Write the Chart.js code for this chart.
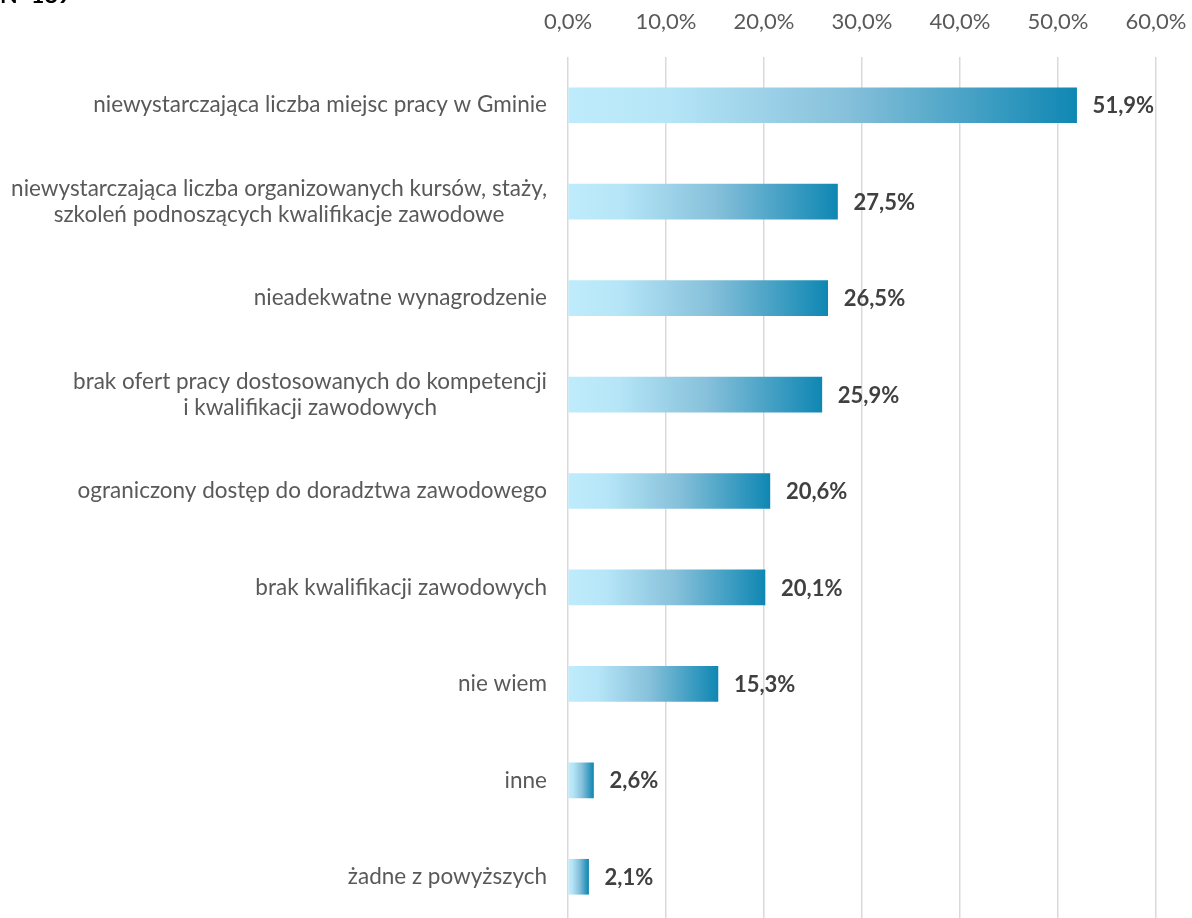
<!DOCTYPE html>
<html>
<head>
<meta charset="utf-8">
<script src="https://cdn.jsdelivr.net/npm/chart.js@4.4.1/dist/chart.umd.min.js"></script>
<style>
  html, body { margin: 0; padding: 0; background: #fff; overflow: hidden; }
  #wrap { position: relative; width: 1192px; height: 925px; }
  #note { position: absolute; left: 0; top: -20px; font: bold 23px 'Lato', sans-serif; color: #000; }
</style>
</head>
<body>
<div id="wrap">
  <canvas id="barChart" width="1192" height="925"></canvas>
  <div id="note">N=189</div>
</div>
<script>
Chart.defaults.font.family = "'Lato', 'Segoe UI', sans-serif";
Chart.defaults.color = "#595959";

const categories = [
  ['niewystarczająca liczba miejsc pracy w Gminie'],
  ['niewystarczająca liczba organizowanych kursów, staży,', 'szkoleń podnoszących kwalifikacje zawodowe'],
  ['nieadekwatne wynagrodzenie'],
  ['brak ofert pracy dostosowanych do kompetencji', 'i kwalifikacji zawodowych'],
  ['ograniczony dostęp do doradztwa zawodowego'],
  ['brak kwalifikacji zawodowych'],
  ['nie wiem'],
  ['inne'],
  ['żadne z powyższych']
];
const shares = [51.9, 27.5, 26.5, 25.9, 20.6, 20.1, 15.3, 2.6, 2.1];
const xTicks = [0, 10, 20, 30, 40, 50, 60];

const fmt = v => v.toFixed(1).replace('.', ',') + '%';

function barGradient(context) {
  const chart = context.chart;
  if (!chart.chartArea || !chart.scales.x) return '#6fb3d2';
  const x0 = chart.scales.x.getPixelForValue(0);
  const x1 = chart.scales.x.getPixelForValue(shares[context.dataIndex]);
  const g = chart.ctx.createLinearGradient(x0, 0, Math.max(x1, x0 + 1), 0);
  g.addColorStop(0, '#bfecfc');
  g.addColorStop(0.2, '#b5e5f7');
  g.addColorStop(0.55, '#86c0da');
  g.addColorStop(1, '#0f87b3');
  return g;
}

// category labels: block right-aligned, lines centred inside it
const categoryLabels = {
  id: 'categoryLabels',
  afterDraw(chart) {
    const ctx = chart.ctx;
    const y = chart.scales.y;
    const right = chart.chartArea.left - 21;
    ctx.save();
    ctx.font = "22.5px 'Lato', sans-serif";
    ctx.fillStyle = '#595959';
    ctx.textAlign = 'center';
    ctx.textBaseline = 'middle';
    categories.forEach((lines, i) => {
      const w = Math.max(...lines.map(l => ctx.measureText(l).width));
      const cy = y.getPixelForValue(i);
      const lh = 25.5;
      lines.forEach((l, j) => {
        ctx.fillText(l, right - w / 2, cy + (j - (lines.length - 1) / 2) * lh);
      });
    });
    ctx.restore();
  }
};

const valueLabels = {
  id: 'valueLabels',
  afterDatasetsDraw(chart) {
    const ctx = chart.ctx;
    ctx.save();
    ctx.font = "bold 22px 'Lato', sans-serif";
    ctx.fillStyle = '#404040';
    ctx.textAlign = 'left';
    ctx.textBaseline = 'middle';
    chart.getDatasetMeta(0).data.forEach((bar, i) => {
      ctx.fillText(fmt(shares[i]), bar.x + 16, bar.y + 1);
    });
    ctx.restore();
  }
};

document.addEventListener('DOMContentLoaded', () => {
  const ctx = document.getElementById('barChart').getContext('2d');
  new Chart(ctx, {
    type: 'bar',
    data: {
      labels: categories,
      datasets: [{
        data: shares,
        backgroundColor: barGradient,
        borderWidth: 0,
        barThickness: 35
      }]
    },
    options: {
      indexAxis: 'y',
      responsive: false,
      animation: false,
      layout: { padding: { left: 0, right: 36, top: 0, bottom: 0 } },
      scales: {
        x: {
          position: 'top',
          min: 0,
          max: 60,
          afterBuildTicks: axis => { axis.ticks = xTicks.map(v => ({ value: v })); },
          afterFit: axis => { axis.height = 57; axis.paddingRight = 0; axis.paddingLeft = 0; },
          grid: { color: '#d9d9d9', lineWidth: 1.5, drawTicks: false },
          border: { display: false },
          ticks: {
            padding: 22,
            font: { size: 22 },
            color: '#595959',
            callback: v => fmt(v)
          }
        },
        y: {
          afterFit: axis => { axis.width = 568; },
          grid: { display: false },
          border: { display: false },
          ticks: { display: false }
        }
      },
      plugins: {
        legend: { display: false },
        tooltip: { enabled: false }
      }
    },
    plugins: [categoryLabels, valueLabels]
  });
});
</script>
</body>
</html>
